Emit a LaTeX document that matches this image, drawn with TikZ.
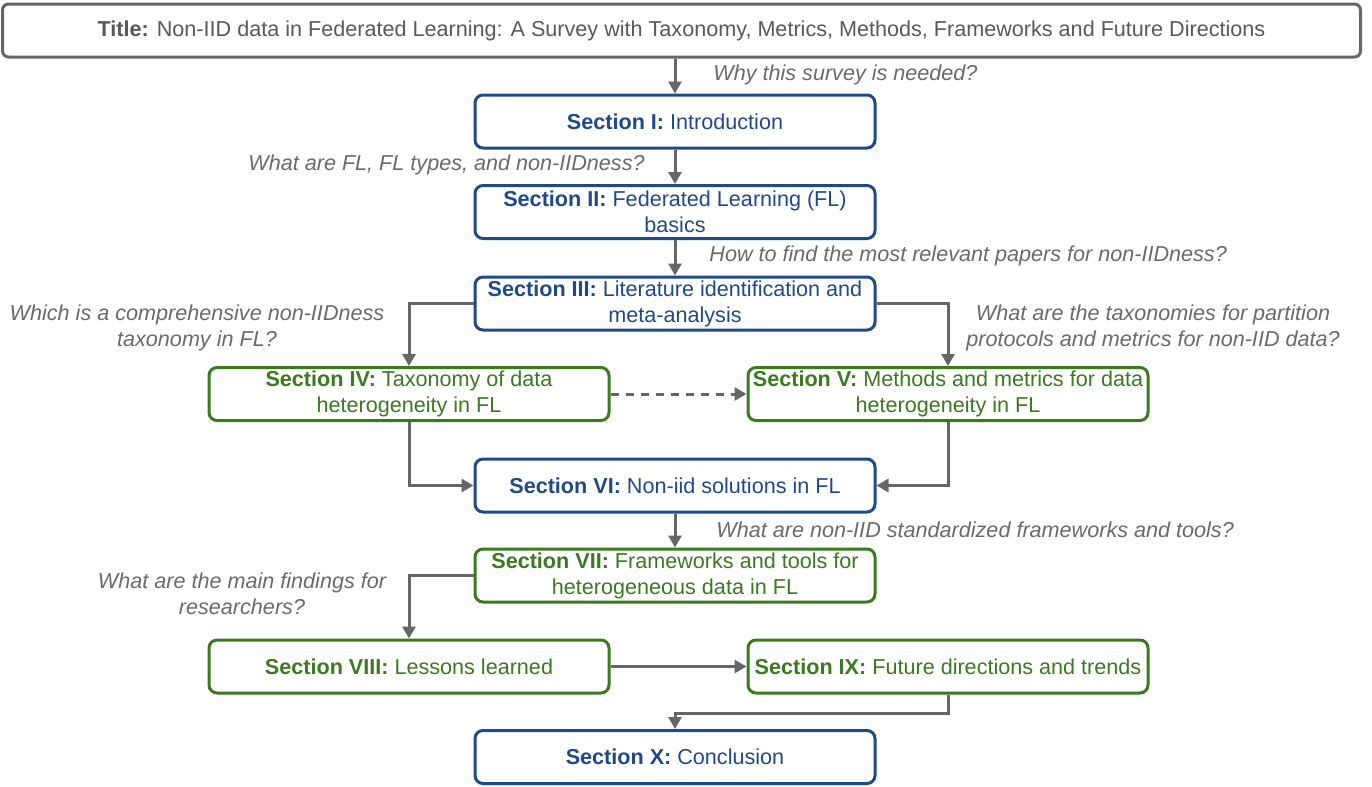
\documentclass[tikz,border=0pt]{standalone}
\usepackage{fontspec}
\setmainfont{Liberation Sans}
\usepackage{tikz}
\usetikzlibrary{positioning, arrows.meta, calc}
\definecolor{secblue}{HTML}{1F4A8A}
\definecolor{secgreen}{HTML}{3B7A1F}
\definecolor{flowgray}{HTML}{666666}
\definecolor{asktext}{HTML}{6A6A6A}
\def\boxfont{\fontsize{10.8pt}{13pt}\selectfont}
\tikzset{
    secbox/.style={draw, rounded corners=4pt, line width=1.5pt, fill=white,
        minimum width=200pt, minimum height=26.5pt, align=center,
        inner sep=1pt, font=\boxfont},
    bluesec/.style={secbox, draw=secblue, text=secblue},
    greensec/.style={secbox, draw=secgreen, text=secgreen},
    flow/.style={draw=flowgray, line width=1.5pt,
        -{Triangle[length=6pt, width=6.5pt]}},
    ask/.style={text=asktext, font=\boxfont\itshape, align=center, inner sep=0pt}
}
\begin{document}
\begin{tikzpicture}[x=0.5pt, y=-0.5pt]
    \useasboundingbox (0,0) rectangle (1372,787);

    % title
    \node[secbox, draw=flowgray, text=black!65, minimum width=679pt,
        rounded corners=3pt] (title) at (681.5,30.5)
        {\textbf{Title:} Non-IID data in Federated Learning: A Survey with Taxonomy, Metrics, Methods, Frameworks and Future Directions};

    % sections
    \node[bluesec] (s1) at (675,121.5) {\textbf{Section I:} Introduction};
    \node[bluesec] (s2) at (675,212) {\textbf{Section II:} Federated Learning (FL)\\basics};
    \node[bluesec] (s3) at (675,303.5) {\textbf{Section III:} Literature identification and\\meta-analysis};
    \node[greensec] (s4) at (409,394) {\textbf{Section IV:} Taxonomy of data\\heterogeneity in FL};
    \node[greensec] (s5) at (948,394) {\textbf{Section V:} Methods and metrics for data\\heterogeneity in FL};
    \node[bluesec] (s6) at (675,485.5) {\textbf{Section VI:} Non-iid solutions in FL};
    \node[greensec] (s7) at (675,575.5) {\textbf{Section VII:} Frameworks and tools for\\heterogeneous data in FL};
    \node[greensec] (s8) at (409,666.5) {\textbf{Section VIII:} Lessons learned};
    \node[greensec] (s9) at (948,666.5) {\textbf{Section IX:} Future directions and trends};
    \node[bluesec] (s10) at (675,757) {\textbf{Section X:} Conclusion};

    % questions
    \node[ask, anchor=west] (q1) at (713,75) {Why this survey is needed?};
    \node[ask, anchor=east] (q2) at (645,165) {What are FL, FL types, and non-IIDness?};
    \node[ask, anchor=west] (q3) at (709,256) {How to find the most relevant papers for non-IIDness?};
    \node[ask] (q4) at (197,328) {Which is a comprehensive non-IIDness\\taxonomy in FL?};
    \node[ask] (q5) at (1153,328) {What are the taxonomies for partition\\protocols and metrics for non-IID data?};
    \node[ask, anchor=west] (q6) at (716,530) {What are non-IID standardized frameworks and tools?};
    \node[ask] (q7) at (242,594) {What are the main findings for\\researchers?};

    % draw connectors
    \draw[flow] (title.south -| s1.north) -- (s1.north);
    \draw[flow] (s1) -- (s2);
    \draw[flow] (s2) -- (s3);
    \draw[flow] (s3.west) -| (s4.north);
    \draw[flow] (s3.east) -| (s5.north);
    \draw[flow, dashed, dash pattern=on 4pt off 3.5pt] (s4) -- (s5);
    \draw[flow] (s4.south) |- (s6.west);
    \draw[flow] (s5.south) |- (s6.east);
    \draw[flow] (s6) -- (s7);
    \draw[flow] (s7.west) -| (s8.north);
    \draw[flow] (s8) -- (s9);
    \draw[flow] (s9.south) -- ++(0,19) -| (s10.north);
\end{tikzpicture}
\end{document}
